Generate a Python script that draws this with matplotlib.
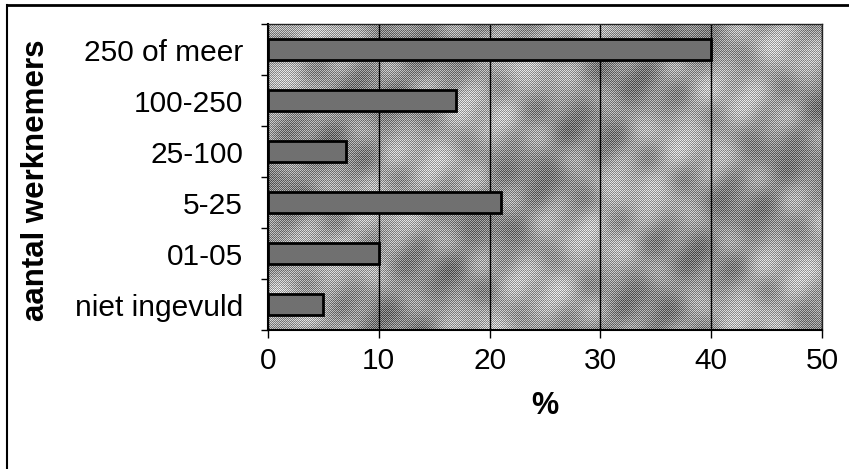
import matplotlib
matplotlib.use("Agg")
import matplotlib.pyplot as plt
from matplotlib.lines import Line2D
import numpy as np

# Company size classes (top to bottom) and share of respondents in %
categories = ["250 of meer", "100-250", "25-100", "5-25", "01-05", "niet ingevuld"]
percentages = [40, 17, 7, 21, 10, 5]
x_ticks = [0, 10, 20, 30, 40, 50]

plt.rcParams["font.family"] = ["Liberation Sans", "DejaVu Sans"]

W, H = 849, 469
fig = plt.figure(figsize=(W / 100, H / 100), dpi=100)
fig.patch.set_facecolor("white")

left, right, top, bottom = 268, 822, 24, 330
ax = fig.add_axes([left / W, 1 - bottom / H, (right - left) / W, (bottom - top) / H])
ax.set_facecolor("#9b9b9b")

ax.set_xlim(0, 50)
ax.set_ylim(len(categories) - 0.5, -0.5)

# granite-like halftone fill of the plot area: pixel checker over slow waves
ph, pw = bottom - top, right - left
jj, ii = np.meshgrid(np.arange(pw), np.arange(ph))
wave = (0.62
        + 0.07 * np.sin((ii + jj) / 38.0)
        + 0.05 * np.sin((jj - 2 * ii) / 23.0)
        + 0.04 * np.cos((2 * jj + ii) / 15.0)
        + 0.03 * np.sin(jj / 9.0) * np.cos(ii / 7.0))
checker = np.where((ii + jj) % 2 == 0, 1.0, -1.0)
rows = np.where(ii % 3 == 0, -0.05, 0.0)
tex = np.clip(wave + 0.17 * checker + rows, 0, 1)
ax.imshow(tex, cmap="gray", vmin=0, vmax=1, interpolation="nearest",
          extent=(0, 50, len(categories) - 0.5, -0.5), aspect="auto", zorder=0)

y = np.arange(len(categories))
ax.barh(y, percentages, height=0.42, color="#707070", edgecolor="black",
        linewidth=2.0, zorder=3)

ax.set_xticks(x_ticks)
ax.set_xticklabels([str(v) for v in x_ticks], fontsize=21.5)
ax.xaxis.grid(True, color="black", linewidth=1.0, zorder=1)

# category labels centred in each band, tick marks on the band edges
ax.set_yticks(y)
ax.set_yticklabels(categories, fontsize=21.5)
ax.tick_params(axis="y", which="major", length=0, pad=18)
ax.set_yticks(np.arange(-0.5, len(categories)), minor=True)
ax.tick_params(axis="y", which="minor", length=5, width=1.0, direction="out")
ax.tick_params(axis="x", which="major", length=6, width=1.0, direction="out", pad=6)

for side in ["left", "bottom"]:
    ax.spines[side].set_color("black")
    ax.spines[side].set_linewidth(1.5)
for side in ["right", "top"]:
    ax.spines[side].set_color("#222222")
    ax.spines[side].set_linewidth(1.0)

ax.set_xlabel("%", fontsize=22, fontweight="bold", labelpad=12)
fig.text(36 / W, 1 - 180 / H, "aantal werknemers", rotation=90, fontsize=22.5,
         fontweight="bold", ha="center", va="center")

# outer frame lines of the chart object
fig.add_artist(Line2D([7 / W, 1.0], [1 - 5 / H, 1 - 5 / H], color="black",
                      linewidth=2.0, transform=fig.transFigure))
fig.add_artist(Line2D([7 / W, 7 / W], [0.0, 1 - 5 / H], color="black",
                      linewidth=1.5, transform=fig.transFigure))

fig.savefig("out.png", dpi=100)
